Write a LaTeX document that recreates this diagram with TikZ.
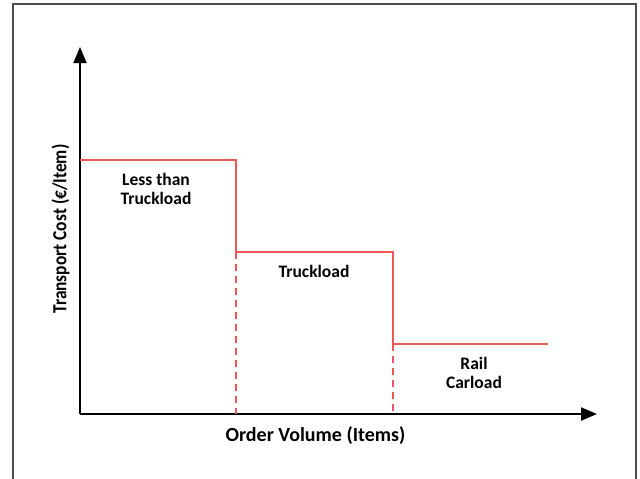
\documentclass[tikz,border=0pt]{standalone}
\usepackage{fontspec}
\setmainfont{Carlito}
\usetikzlibrary{arrows.meta}
\definecolor{stepred}{RGB}{236,88,88}
\begin{document}
\begin{tikzpicture}[x=1pt,y=-1pt,
  axis/.style={line width=2pt,black,-{Triangle[length=16pt,width=13pt]}},
  costline/.style={line width=1.6pt,stepred},
  guide/.style={line width=1.6pt,stepred,dash pattern=on 7pt off 5pt},
  lbl/.style={font=\bfseries\fontsize{17.5}{19.5}\selectfont,align=center,inner sep=0pt},
  axlbl/.style={font=\bfseries\fontsize{20}{24}\selectfont,inner sep=0pt},
  frame/.style={line width=1.3pt,black!70}]
\useasboundingbox (0,0) rectangle (640,479);
\draw[frame] (13,485) -- (13,4) -- (636,4) -- (636,485);
\coordinate (o) at (80,414);
\coordinate (ytop) at (80,47);
\coordinate (xend) at (597,414);
\draw[axis] (o) -- (ytop);
\draw[axis] (o) -- (xend);
\coordinate (a0) at (80,160);
\coordinate (a1) at (236,160);
\coordinate (b0) at (236,252);
\coordinate (b1) at (393,252);
\coordinate (c0) at (393,344);
\coordinate (c1) at (548,344);
\coordinate (d1) at (236,414);
\coordinate (d2) at (393,414);
\draw[costline] (a0) -- (a1) -- (b0) -- (b1) -- (c0) -- (c1);
\draw[guide] (b0) -- (d1);
\draw[guide] (c0) -- (d2);
\node[lbl] (ltl) at (156,189) {Less than\\Truckload};
\node[lbl] (tl) at (314,271) {Truckload};
\node[lbl] (rc) at (474,373) {Rail\\Carload};
\node[axlbl] (xl) at (315.5,436) {Order Volume (Items)};
\node[axlbl,rotate=90] (yl) at (60.5,229) {\scalebox{0.87}[1]{Transport Cost (€/Item)}};
\end{tikzpicture}
\end{document}
